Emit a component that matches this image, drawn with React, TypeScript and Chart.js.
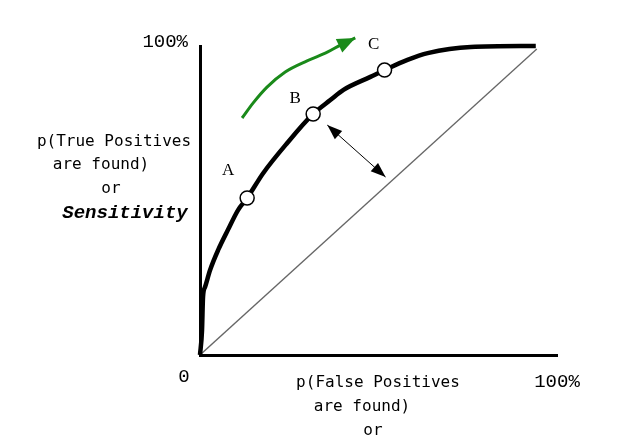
import React, { useEffect, useRef } from "react";
import { Chart, registerables } from "chart.js";

Chart.register(...registerables);

// ROC curve (x = false positive %, y = true positive %)
const rocX = [0, 0.6, 0.9, 1.5, 3, 5.4, 8.3, 11.3, 14, 18.8, 25.9, 33.6, 38.7, 42.6, 50.6, 54.8, 61.6, 67.6, 80.4, 99.7];
const rocY = [0, 8, 18.8, 22, 27.5, 34, 40.5, 46.9, 50.8, 58.9, 68.6, 78, 82.5, 85.8, 90, 92.2, 95.5, 97.7, 99.7, 100];

// Marked operating points
const pointNames = ["A", "B", "C"];
const pointX = [14, 33.6, 54.8];
const pointY = [50.8, 78, 92.2];

// Chance diagonal
const diagX = [0, 100];
const diagY = [0, 99];

// Double-headed distance arrow
const distX = [37.8, 55.1];
const distY = [74.4, 57.6];

// Green direction arrow
const greenX = [12.5, 15.8, 19.9, 25.3, 31.8, 37.8, 41.7, 46.1];
const greenY = [76.7, 81.6, 86.7, 91.6, 95.2, 98, 100.3, 102.6];

const toPts = (xs: number[], ys: number[]) => xs.map((x, i) => ({ x, y: ys[i] }));

// label offsets (px) from each marked point
const labelDX = [-19, -18, -11];
const labelDY = [-23, -11, -21];

const arrowPlugin = {
  id: "arrowHeads",
  afterDatasetsDraw(chart: any) {
    const ctx = chart.ctx;
    chart.data.datasets.forEach((ds: any, i: number) => {
      if (!ds.arrow) return;
      const meta = chart.getDatasetMeta(i);
      const pts = meta.data;
      const heads: any[] = [];
      if (ds.arrow.end) heads.push([pts[pts.length - 2], pts[pts.length - 1]]);
      if (ds.arrow.start) heads.push([pts[1], pts[0]]);
      heads.forEach(([a, b]) => {
        const ang = Math.atan2(b.y - a.y, b.x - a.x);
        const L = ds.arrow.len, W = ds.arrow.width / 2;
        ctx.save();
        ctx.fillStyle = ds.borderColor;
        ctx.beginPath();
        ctx.moveTo(b.x, b.y);
        ctx.lineTo(b.x - L * Math.cos(ang) + W * Math.sin(ang), b.y - L * Math.sin(ang) - W * Math.cos(ang));
        ctx.lineTo(b.x - L * Math.cos(ang) - W * Math.sin(ang), b.y - L * Math.sin(ang) + W * Math.cos(ang));
        ctx.closePath();
        ctx.fill();
        ctx.restore();
      });
    });
  },
};

const MONO = "'DejaVu Sans Mono', monospace";
const texts = [
  { t: "100%", x: 188, y: 47, align: "right", font: `19px 'Liberation Mono', monospace` },
  { t: "0", x: 184, y: 382, align: "center", font: `19px 'Liberation Mono', monospace` },
  { t: "100%", x: 557, y: 387, align: "center", font: `19px 'Liberation Mono', monospace` },
  { t: "p(True Positives", x: 114, y: 146, align: "center", font: `16px ${MONO}` },
  { t: "are found)", x: 101, y: 169, align: "center", font: `16px ${MONO}` },
  { t: "or", x: 111, y: 193, align: "center", font: `16px ${MONO}` },
  { t: "Sensitivity", x: 125, y: 218, align: "center", font: `italic bold 19px 'Liberation Mono', monospace` },
  { t: "p(False Positives", x: 378, y: 387, align: "center", font: `16px ${MONO}` },
  { t: "are found)", x: 362, y: 411, align: "center", font: `16px ${MONO}` },
  { t: "or", x: 373, y: 435, align: "center", font: `16px ${MONO}` },
];

const textPlugin = {
  id: "texts",
  afterDraw(chart: any) {
    const ctx = chart.ctx;
    ctx.save();
    ctx.fillStyle = "#000";
    ctx.textBaseline = "alphabetic";
    texts.forEach((o) => {
      ctx.font = o.font;
      ctx.textAlign = o.align;
      ctx.fillText(o.t, o.x, o.y);
    });
    const xs = chart.scales.x, ys = chart.scales.y;
    ctx.font = "17px 'Liberation Serif', serif";
    ctx.textAlign = "center";
    pointNames.forEach((n, i) => {
      const px = xs.getPixelForValue(pointX[i]);
      const py = ys.getPixelForValue(pointY[i]);
      ctx.fillText(n, px + labelDX[i], py + labelDY[i]);
    });
    ctx.restore();
  },
};

export default function App() {
  const ref = useRef<HTMLCanvasElement>(null);
  useEffect(() => {
    document.body.style.margin = "0";
    const chart = new Chart(ref.current!, {
      type: "scatter",
      data: {
        datasets: [
          {
            data: toPts(pointX, pointY),
            backgroundColor: "#fff",
            borderColor: "#000",
            borderWidth: 1.5,
            pointRadius: 7,
          },
          {
            type: "line",
            data: toPts(rocX, rocY),
            borderColor: "#000",
            borderWidth: 4.5,
            pointRadius: 0,
            cubicInterpolationMode: "monotone",
            clip: false,
          } as any,
          {
            type: "line",
            data: toPts(diagX, diagY),
            borderColor: "#666",
            borderWidth: 1.3,
            pointRadius: 0,
          } as any,
          {
            type: "line",
            data: toPts(distX, distY),
            borderColor: "#000",
            borderWidth: 1,
            pointRadius: 0,
            arrow: { start: true, end: true, len: 15, width: 11 },
          } as any,
          {
            type: "line",
            data: toPts(greenX, greenY),
            borderColor: "#1a8a1a",
            borderWidth: 3,
            pointRadius: 0,
            cubicInterpolationMode: "monotone",
            clip: false,
            arrow: { end: true, len: 18, width: 15 },
          } as any,
        ],
      },
      options: {
        animation: false,
        responsive: false,
        events: [],
        layout: { padding: { left: 200, right: 67, top: 46, bottom: 91 } },
        plugins: { legend: { display: false }, tooltip: { enabled: false } },
        scales: {
          x: {
            type: "linear",
            min: 0,
            max: 106,
            ticks: { display: false },
            grid: { display: false, drawTicks: false },
            border: { display: true, color: "#000", width: 3 },
          },
          y: {
            type: "linear",
            min: 0,
            max: 100,
            ticks: { display: false },
            grid: { display: false, drawTicks: false },
            border: { display: true, color: "#000", width: 3 },
          },
        },
      },
      plugins: [arrowPlugin, textPlugin],
    });
    return () => chart.destroy();
  }, []);
  return (
    <div style={{ position: "fixed", left: 0, top: 0, width: 624, height: 446, background: "#fff" }}>
      <canvas ref={ref} width={624} height={446} />
    </div>
  );
}
